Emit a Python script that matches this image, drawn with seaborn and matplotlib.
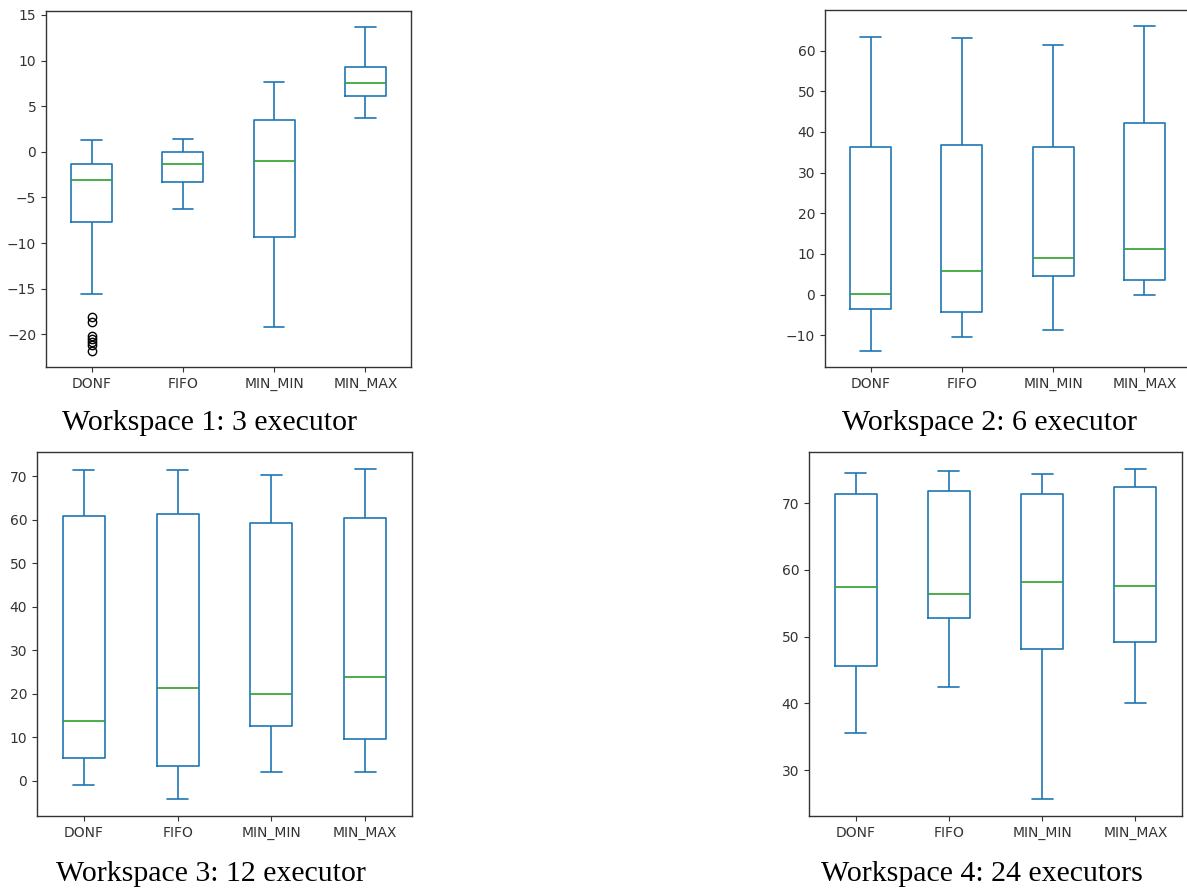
import numpy as np
import pandas as pd
import matplotlib
matplotlib.use("Agg")
import matplotlib.pyplot as plt
from matplotlib.ticker import MultipleLocator
import seaborn as sns

sns.set_style("ticks")
plt.rcParams['font.family'] = ['DejaVu Sans']

categories = ["DONF", "FIFO", "MIN_MIN", "MIN_MAX"]

# Workspace 1: 3 executor  (five-number summary per scheduler)
ws1_lo  = [-15.6, -6.3, -19.2, 3.7]
ws1_q1  = [-7.7, -3.3, -9.3, 6.1]
ws1_med = [-3.1, -1.3, -1.0, 7.5]
ws1_q3  = [-1.3, 0.0, 3.5, 9.25]
ws1_hi  = [1.3, 1.4, 7.7, 13.65]
ws1_out = [[-18.1, -18.6, -20.2, -20.5, -20.8, -21.2, -21.8], [], [], []]

# Workspace 2: 6 executor
ws2_lo  = [-13.8, -10.3, -8.8, 0.0]
ws2_q1  = [-3.6, -4.3, 4.5, 3.5]
ws2_med = [0.2, 5.8, 9.0, 11.25]
ws2_q3  = [36.3, 36.9, 36.3, 42.3]
ws2_hi  = [63.3, 63.0, 61.4, 66.0]
ws2_out = [[], [], [], []]

# Workspace 3: 12 executor
ws3_lo  = [-0.9, -4.3, 1.9, 1.9]
ws3_q1  = [5.2, 3.35, 12.6, 9.5]
ws3_med = [13.8, 21.4, 19.9, 23.9]
ws3_q3  = [60.9, 61.3, 59.2, 60.4]
ws3_hi  = [71.45, 71.45, 70.2, 71.75]
ws3_out = [[], [], [], []]

# Workspace 4: 24 executors
ws4_lo  = [35.6, 42.4, 25.6, 40.0]
ws4_q1  = [45.6, 52.8, 48.2, 49.25]
ws4_med = [57.4, 56.4, 58.2, 57.6]
ws4_q3  = [71.4, 71.8, 71.4, 72.4]
ws4_hi  = [74.6, 74.8, 74.4, 75.2]
ws4_out = [[], [], [], []]

captions = ["Workspace 1: 3 executor", "Workspace 2: 6 executor",
            "Workspace 3: 12 executor", "Workspace 4: 24 executors"]


def summary_frame(lo, q1, med, q3, hi, out, m=20):
    rows = []
    for i, cat in enumerate(categories):
        vals = list(out[i]) + [lo[i]] + [q1[i]] * m + [med[i]] * m + [q3[i]] * m + [hi[i]]
        rows += [(cat, v) for v in vals]
    return pd.DataFrame(rows, columns=["scheduler", "value"])


panels = [
    (ws1_lo, ws1_q1, ws1_med, ws1_q3, ws1_hi, ws1_out),
    (ws2_lo, ws2_q1, ws2_med, ws2_q3, ws2_hi, ws2_out),
    (ws3_lo, ws3_q1, ws3_med, ws3_q3, ws3_hi, ws3_out),
    (ws4_lo, ws4_q1, ws4_med, ws4_q3, ws4_hi, ws4_out),
]

W, H = 1187, 893
fig = plt.figure(figsize=(W / 100, H / 100), dpi=100)

# axes boxes in pixels: left, top, right, bottom
boxes = [(46, 11, 411, 367), (825, 10, 1190, 367), (37, 452, 412, 816), (809, 452, 1182, 816)]
steps = [5, 10, 10, 10]
cap_pos = [(210, 430), (990, 430), (211, 881), (982, 881)]

for (l, t, r, b), p, step, cap, (cx, cy) in zip(boxes, panels, steps, captions, cap_pos):
    ax = fig.add_axes([l / W, 1 - b / H, (r - l) / W, (b - t) / H])
    df = summary_frame(*p)
    sns.boxplot(data=df, x="scheduler", y="value", order=categories, ax=ax,
                fill=False, color="#1f77b4", width=0.45, linewidth=1.2,
                whis=1.5,
                medianprops=dict(color="#2ca02c", linewidth=1.2),
                flierprops=dict(marker="o", markerfacecolor="none",
                                markeredgecolor="black", markersize=6,
                                markeredgewidth=1.0))
    ax.set_xlabel("")
    ax.set_ylabel("")
    ax.yaxis.set_major_locator(MultipleLocator(step))
    ax.tick_params(labelsize=10, colors="#333333")
    for s in ax.spines.values():
        s.set_color("#333333")
        s.set_linewidth(1.0)
    fig.text(cx / W, 1 - cy / H, cap, ha="center", va="baseline",
             family=["Liberation Serif"], fontsize=21.5, color="black")

fig.savefig("out.png", dpi=100)
